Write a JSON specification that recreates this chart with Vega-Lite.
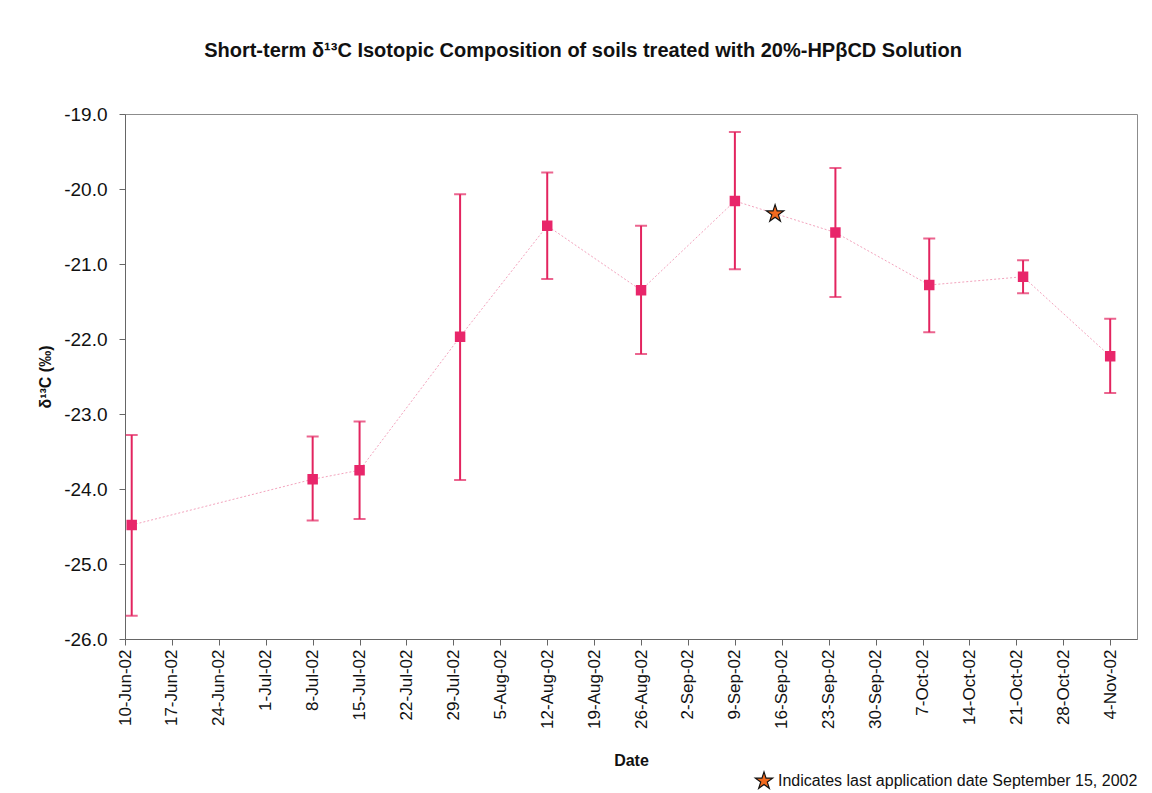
{
  "$schema": "https://vega.github.io/schema/vega-lite/v6.json",
  "width": 1012,
  "height": 525,
  "autosize": {"type": "none"},
  "padding": {"left": 125, "top": 114, "right": 15, "bottom": 154},
  "background": "white",
  "title": {
    "text": "Short-term δ¹³C Isotopic Composition of soils treated with 20%-HPβCD Solution",
    "dx": -48
  },
  "data": {
    "values": [
      {"series": "sample", "date": "2002-06-11", "value": -24.48, "lo": -25.69, "hi": -23.28},
      {"series": "sample", "date": "2002-07-08", "value": -23.87, "lo": -24.42, "hi": -23.30},
      {"series": "sample", "date": "2002-07-15", "value": -23.75, "lo": -24.40, "hi": -23.10},
      {"series": "sample", "date": "2002-07-30", "value": -21.97, "lo": -23.88, "hi": -20.07},
      {"series": "sample", "date": "2002-08-12", "value": -20.49, "lo": -21.20, "hi": -19.78},
      {"series": "sample", "date": "2002-08-26", "value": -21.35, "lo": -22.20, "hi": -20.49},
      {"series": "sample", "date": "2002-09-09", "value": -20.16, "lo": -21.07, "hi": -19.24},
      {"series": "sample", "date": "2002-09-24", "value": -20.58, "lo": -21.44, "hi": -19.72},
      {"series": "sample", "date": "2002-10-08", "value": -21.28, "lo": -21.91, "hi": -20.66},
      {"series": "sample", "date": "2002-10-22", "value": -21.17, "lo": -21.39, "hi": -20.95},
      {"series": "sample", "date": "2002-11-04", "value": -22.23, "lo": -22.72, "hi": -21.73},
      {"series": "Indicates last application date September 15, 2002", "date": "2002-09-15", "value": -20.33}
    ]
  },
  "encoding": {
    "x": {
      "field": "date",
      "type": "temporal",
      "title": "Date",
      "scale": {
        "type": "utc",
        "domain": [{"year": 2002, "month": 6, "date": 10, "utc": true}, {"year": 2002, "month": 11, "date": 8, "utc": true}],
        "nice": false
      },
      "axis": {
        "values": [
          {"year": 2002, "month": 6, "date": 10, "utc": true}, {"year": 2002, "month": 6, "date": 17, "utc": true}, {"year": 2002, "month": 6, "date": 24, "utc": true},
          {"year": 2002, "month": 7, "date": 1, "utc": true}, {"year": 2002, "month": 7, "date": 8, "utc": true}, {"year": 2002, "month": 7, "date": 15, "utc": true}, {"year": 2002, "month": 7, "date": 22, "utc": true}, {"year": 2002, "month": 7, "date": 29, "utc": true},
          {"year": 2002, "month": 8, "date": 5, "utc": true}, {"year": 2002, "month": 8, "date": 12, "utc": true}, {"year": 2002, "month": 8, "date": 19, "utc": true}, {"year": 2002, "month": 8, "date": 26, "utc": true},
          {"year": 2002, "month": 9, "date": 2, "utc": true}, {"year": 2002, "month": 9, "date": 9, "utc": true}, {"year": 2002, "month": 9, "date": 16, "utc": true}, {"year": 2002, "month": 9, "date": 23, "utc": true}, {"year": 2002, "month": 9, "date": 30, "utc": true},
          {"year": 2002, "month": 10, "date": 7, "utc": true}, {"year": 2002, "month": 10, "date": 14, "utc": true}, {"year": 2002, "month": 10, "date": 21, "utc": true}, {"year": 2002, "month": 10, "date": 28, "utc": true},
          {"year": 2002, "month": 11, "date": 4, "utc": true}
        ],
        "labelExpr": "utcFormat(datum.value, '%-d-%b-%y')",
        "labelAngle": 270,
        "labelOverlap": false,
        "labelFontSize": 17,
        "labelPadding": 4,
        "tickSize": 6,
        "titleFontSize": 16,
        "titleFontWeight": "bold",
        "titlePadding": 24
      }
    }
  },
  "layer": [
    {
      "transform": [{"filter": "datum.series === 'sample'"}],
      "mark": {"type": "line", "color": "#f3a3bd", "strokeWidth": 1, "strokeDash": [2, 2]},
      "encoding": {
        "y": {
          "field": "value",
          "type": "quantitative",
          "title": "δ¹³C (‰)",
          "scale": {"domain": [-26, -19], "nice": false, "zero": false},
          "axis": {
            "values": [-26, -25, -24, -23, -22, -21, -20, -19],
            "labelExpr": "'-' + format(-datum.value, '.1f')",
            "labelFontSize": 19,
            "labelPadding": 12,
            "tickSize": 6,
            "titleFontSize": 16,
            "titleFontWeight": "bold",
            "titlePadding": 10
          }
        }
      }
    },
    {
      "transform": [{"filter": "datum.series === 'sample'"}],
      "mark": {"type": "rule", "color": "#e3245f", "strokeWidth": 2},
      "encoding": {
        "y": {"field": "lo", "type": "quantitative"},
        "y2": {"field": "hi"}
      }
    },
    {
      "transform": [{"filter": "datum.series === 'sample'"}],
      "mark": {"type": "tick", "orient": "horizontal", "color": "#e3245f", "size": 12, "thickness": 2},
      "encoding": {"y": {"field": "lo", "type": "quantitative"}}
    },
    {
      "transform": [{"filter": "datum.series === 'sample'"}],
      "mark": {"type": "tick", "orient": "horizontal", "color": "#e3245f", "size": 12, "thickness": 2},
      "encoding": {"y": {"field": "hi", "type": "quantitative"}}
    },
    {
      "transform": [{"filter": "datum.series === 'sample'"}],
      "mark": {"type": "square", "color": "#e8266a", "size": 110, "opacity": 1},
      "encoding": {"y": {"field": "value", "type": "quantitative"}}
    },
    {
      "transform": [{"filter": "datum.series !== 'sample'"}],
      "mark": {
        "type": "point",
        "shape": "M0,-1L0.2245,-0.309L0.9511,-0.309L0.3633,0.118L0.5878,0.809L0,0.382L-0.5878,0.809L-0.3633,0.118L-0.9511,-0.309L-0.2245,-0.309Z",
        "filled": true,
        "size": 330,
        "stroke": "#111111",
        "strokeWidth": 1.2,
        "opacity": 1
      },
      "encoding": {
        "y": {"field": "value", "type": "quantitative"},
        "fill": {
          "field": "series",
          "type": "nominal",
          "scale": {"range": ["#f26a1f"]},
          "legend": {
            "title": null,
            "orient": "none",
            "legendX": 629,
            "legendY": 657,
            "symbolType": "M0,-1L0.2245,-0.309L0.9511,-0.309L0.3633,0.118L0.5878,0.809L0,0.382L-0.5878,0.809L-0.3633,0.118L-0.9511,-0.309L-0.2245,-0.309Z"
          }
        }
      }
    }
  ],
  "config": {
    "view": {"stroke": "#8c8c8c", "strokeWidth": 1},
    "title": {"font": "Liberation Sans", "fontSize": 20, "fontWeight": "bold", "color": "#111111", "offset": 44},
    "legend": {
      "labelFontSize": 16,
      "labelFont": "Liberation Sans",
      "labelColor": "#111111",
      "labelLimit": 600,
      "symbolSize": 330,
      "symbolStrokeColor": "#111111",
      "symbolStrokeWidth": 1.2,
      "symbolOpacity": 1
    },
    "axis": {
      "grid": false,
      "domainColor": "#666666",
      "tickColor": "#666666",
      "labelColor": "#111111",
      "titleColor": "#111111",
      "labelFont": "Liberation Sans",
      "titleFont": "Liberation Sans"
    }
  }
}
